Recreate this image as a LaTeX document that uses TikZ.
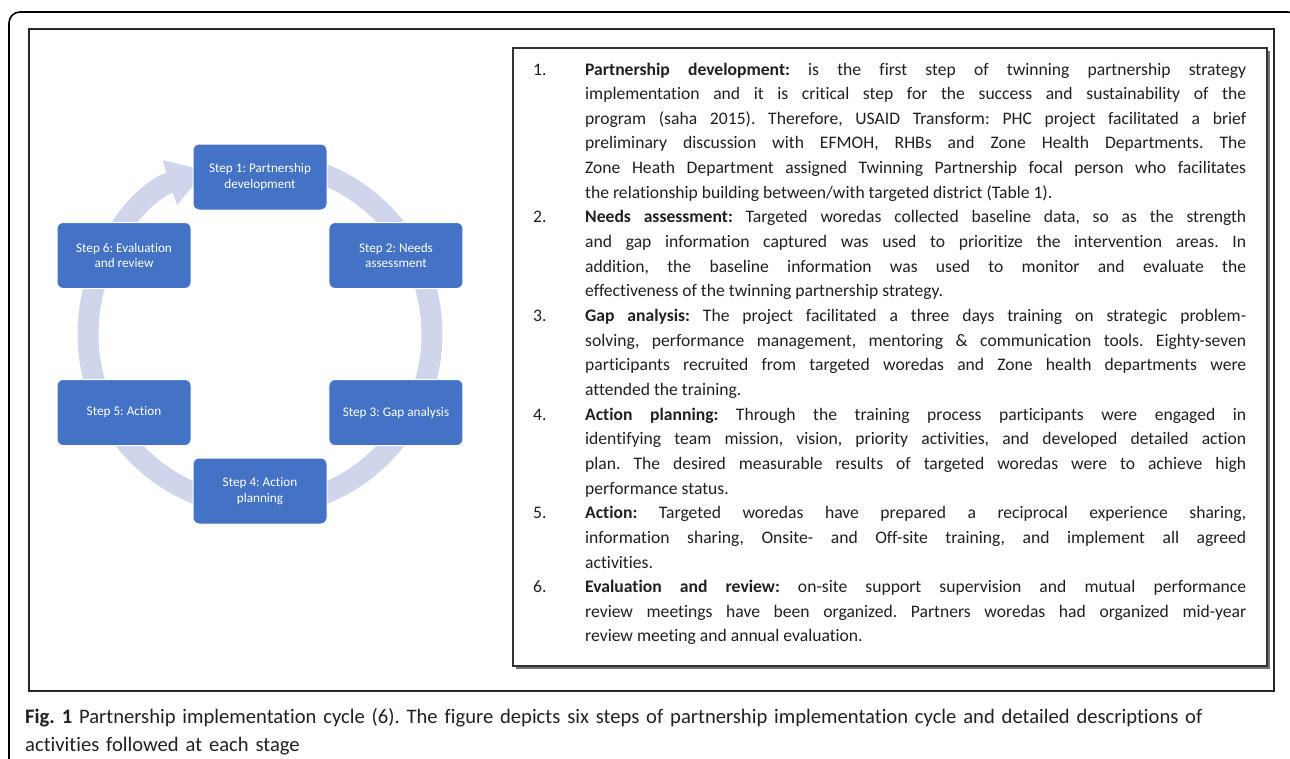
\documentclass[tikz,border=0pt]{standalone}
\usepackage{fontspec}
\setmainfont{Carlito}[Ligatures=NoCommon]
\usepackage{tikz}
\usetikzlibrary{calc}
\usetikzlibrary{arrows.meta}
\usetikzlibrary{positioning}
\usepackage{xcolor}

\definecolor{stepblue}{HTML}{4472C4}
\definecolor{ringblue}{HTML}{CFD5EA}
\definecolor{inkgray}{HTML}{231F20}

\tolerance=9999
\hyphenpenalty=10000
\frenchspacing

\tikzset{
STB/.style = {rectangle,
        rounded corners=6pt,
        fill=stepblue,
        draw=white,
        line width=1pt,
        minimum width=134pt,
        minimum height=66pt,
        text=white,
        align=center,
        font=\fontsize{13.2}{15.5}\selectfont
            },
% text of the list on the right
DSC/.style = {anchor=base west,
        inner sep=0pt,
        text width=661pt,
        align=justify,
        text=inkgray,
        font=\fontsize{17.6}{24.65}\selectfont
            },
NUM/.style = {anchor=base west,
        inner sep=0pt,
        text=inkgray,
        font=\fontsize{17.6}{24.65}\selectfont
            },
CAP/.style = {anchor=base west,
        inner sep=0pt,
        text width=1250pt,
        align=left,
        text=inkgray,
        font=\fontsize{20.6}{28.5}\selectfont
            }
        }

\begin{document}
\begin{tikzpicture}[x=1pt, y=-1pt]

\useasboundingbox (0,0) rectangle (1290,758);

%%% Frames:

\draw[
     line width=1.6pt,
     rounded corners=11pt,
     black,
     ]
     (9,775) -- (9,12) -- (1299,12) -- (1299,775);

\draw[
     line width=1.2pt,
     black!85,
     ]
     (29,29) rectangle (1274,691);

\fill[black!55] (516,51) rectangle (1270,669);

\draw[
     line width=1.4pt,
     black!80,
     fill=white,
     ]
     (513,48) rectangle (1267,666);

%%% Defining points:

\coordinate (C) at (260,334);

\coordinate (N) at (533,75);
\coordinate (D) at (585,75);
\coordinate (LN) at (0,24.65);

%%% Cycle:

\draw[
     ringblue,
     line width=21pt,
     -{Triangle[length=39pt, width=44pt]},
     ]
     ($(C)+(-90:172)$) arc[start angle=-90, end angle=252, radius=172];

\node[STB] (S1) at ($(C)+(-90:157)$) {Step 1: Partnership\\development};
\node[STB] (S2) at ($(C)+(-30:157)$) {Step 2: Needs\\assessment};
\node[STB] (S3) at ($(C)+(30:157)$)  {Step 3: Gap analysis};
\node[STB] (S4) at ($(C)+(90:157)$)  {Step 4: Action\\planning};
\node[STB] (S5) at ($(C)+(150:157)$) {Step 5: Action};
\node[STB] (S6) at ($(C)+(210:157)$) {Step 6: Evaluation\\and review};

%%% Descriptions:

\node[NUM] (n1) at ($(N)+0*(LN)$) {1.};
\node[DSC] (d1) at ($(D)+0*(LN)$) {\textbf{Partnership development:} is the first step of twinning partnership strategy\linebreak
implementation and it is critical step for the success and sustainability of the\linebreak
program (saha 2015). Therefore, USAID Transform: PHC project facilitated a brief\linebreak
preliminary discussion with EFMOH, RHBs and Zone Health Departments. The\linebreak
Zone Heath Department assigned Twinning Partnership focal person who facilitates\linebreak
the relationship building between/with targeted district (Table 1).};

\node[NUM] (n2) at ($(N)+6*(LN)$) {2.};
\node[DSC] (d2) at ($(D)+6*(LN)$) {\textbf{Needs assessment:} Targeted woredas collected baseline data, so as the strength\linebreak
and gap information captured was used to prioritize the intervention areas. In\linebreak
addition, the baseline information was used to monitor and evaluate the\linebreak
effectiveness of the twinning partnership strategy.};

\node[NUM] (n3) at ($(N)+10*(LN)$) {3.};
\node[DSC] (d3) at ($(D)+10*(LN)$) {\textbf{Gap analysis:} The project facilitated a three days training on strategic problem-\linebreak
solving, performance management, mentoring \& communication tools. Eighty-seven\linebreak
participants recruited from targeted woredas and Zone health departments were\linebreak
attended the training.};

\node[NUM] (n4) at ($(N)+14*(LN)$) {4.};
\node[DSC] (d4) at ($(D)+14*(LN)$) {\textbf{Action planning:} Through the training process participants were engaged in\linebreak
identifying team mission, vision, priority activities, and developed detailed action\linebreak
plan. The desired measurable results of targeted woredas were to achieve high\linebreak
performance status.};

\node[NUM] (n5) at ($(N)+18*(LN)$) {5.};
\node[DSC] (d5) at ($(D)+18*(LN)$) {\textbf{Action:} Targeted woredas have prepared a reciprocal experience sharing,\linebreak
information sharing, Onsite- and Off-site training, and implement all agreed\linebreak
activities.};

\node[NUM] (n6) at ($(N)+21*(LN)$) {6.};
\node[DSC] (d6) at ($(D)+21*(LN)$) {\textbf{Evaluation and review:} on-site support supervision and mutual performance\linebreak
review meetings have been organized. Partners woredas had organized mid-year\linebreak
review meeting and annual evaluation.};

%%% Caption:

\node[CAP] (cap) at (25,723) {\textbf{Fig. 1} Partnership implementation cycle (6). The figure depicts six steps of partnership implementation cycle and detailed descriptions of\\
activities followed at each stage};

\end{tikzpicture}
\end{document}
